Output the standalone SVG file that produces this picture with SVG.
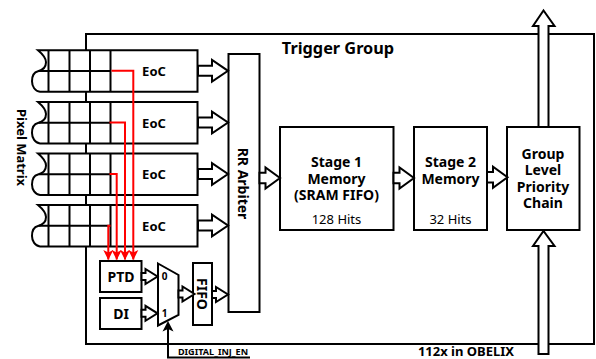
<svg xmlns="http://www.w3.org/2000/svg" width="596" height="359" viewBox="0 0 596 359">
<style>
.b{fill:#fff;stroke:#000;stroke-width:2}
.n{fill:none;stroke:#000;stroke-width:2}
.r{fill:none;stroke:#f00;stroke-width:2}
text{font-family:"Noto Sans","Open Sans",sans-serif;fill:#000;text-anchor:middle}
.t{font-weight:700;font-size:13px}
.m{font-weight:700;font-size:14px}
.h{font-size:13px}
.d{font-weight:700;font-size:10px}
</style>
<defs>
<marker id="ra" markerUnits="userSpaceOnUse" markerWidth="12" markerHeight="12" refX="9.500" refY="5.500" orient="auto"><path d="M0 0.500L10 5.500L0 10.500L2.500 5.500Z" fill="#f00"/></marker>
<path id="hollow" d="M0-5H14V-10.800L30 0L14 10.800V5H0Z" class="b"/>
<path id="mid" d="M0-5.300H6V-10.500L20.500 0L6 10.500V5.300H0Z" class="b"/>
<path id="small" d="M0-3.500H4V-7.500L16 0L4 7.500V3.500H0Z" class="b"/>
<g id="row"><path class="b" d="M38 0H197.500V41.500H40C35 41 32 36 32 31C32 26 34 22 38 21C42 20 46 17 46 12C46 8 44 5 38 0Z"/>
<path class="n" d="M39 20.700H110.500M48.500 0V41.500M69.500 0V41.500M90 0V41.500M110.500 0V41.500"/></g>
</defs>
<rect id="outer" class="b" x="86" y="34" width="508" height="310"/>
<text x="338" y="54" style="font-size:16.300px;font-weight:700">Trigger Group</text>
<text x="466" y="356" style="font-size:13px;font-weight:700">112x in OBELIX</text>
<text transform="translate(16.500 147.500) rotate(90)" style="font-size:13px;font-weight:700">Pixel Matrix</text>
<g id="eoc1"><use href="#row" y="50.300"/><text class="t" x="154" y="76">EoC</text></g>
<g id="eoc2"><use href="#row" y="102"/><text class="t" x="154" y="127.500">EoC</text></g>
<g id="eoc3"><use href="#row" y="153.500"/><text class="t" x="154" y="179">EoC</text></g>
<g id="eoc4"><use href="#row" y="205"/><text class="t" x="154" y="231">EoC</text></g>
<g id="arbiter"><rect class="b" x="228.500" y="54" width="31" height="258"/><text class="m" transform="translate(238 183.500) rotate(90)">RR Arbiter</text></g>
<g id="stage1"><rect class="b" x="280" y="127" width="113.500" height="103"/><text class="m" x="336.500" y="167">Stage 1</text><text class="m" x="336.500" y="184">Memory</text><text class="m" x="336.500" y="200">(SRAM FIFO)</text><text class="h" x="336.500" y="224">128 Hits</text></g>
<g id="stage2"><rect class="b" x="414" y="127" width="73" height="103"/><text class="m" x="450.500" y="167">Stage 2</text><text class="m" x="450.500" y="184">Memory</text><text class="h" x="450.500" y="224">32 Hits</text></g>
<g id="chain"><rect class="b" x="507" y="127" width="72.500" height="103"/><text class="m" x="543" y="159">Group</text><text class="m" x="543" y="175">Level</text><text class="m" x="543" y="191.500">Priority</text><text class="m" x="543" y="207.500">Chain</text></g>
<g id="ptd"><rect class="b" x="100" y="261" width="41.500" height="31"/><text class="m" x="121" y="281.500">PTD</text></g>
<g id="di"><rect class="b" x="100" y="298" width="41.500" height="31"/><text class="m" x="121" y="318.500">DI</text></g>
<g id="mux"><path class="b" d="M158 263.500L178.500 275V315L158 325.500Z"/><text class="d" x="164.500" y="279.500">0</text><text class="d" x="164.500" y="317">1</text></g>
<g id="fifo"><rect class="b" x="193" y="263" width="19" height="62"/><text class="m" transform="translate(196.500 294) rotate(90)">FIFO</text></g>
<text x="213" y="355" style="font-size:9.100px;font-weight:700">DIGITAL_INJ_EN</text>
<g id="connectors">
<use href="#hollow" transform="translate(198 70.800)"/>
<use href="#hollow" transform="translate(198 122.500)"/>
<use href="#hollow" transform="translate(198 174)"/>
<use href="#hollow" transform="translate(198 225.500)"/>
<use href="#mid" transform="translate(259.500 178)"/>
<use href="#mid" transform="translate(393.500 178)"/>
<use href="#mid" transform="translate(487 177.300)"/>
<use href="#small" transform="translate(141.500 276.500)"/>
<use href="#small" transform="translate(141.500 313.300)"/>
<use href="#small" transform="translate(178.500 294)"/>
<use href="#small" transform="translate(212 294.500)"/>
<path class="b" d="M538.500 127V26H533L543.500 10.500L554.500 26H548.500V127Z"/>
<path class="b" d="M538.500 354V246H533L543.500 231L554.500 246H548.500V354Z"/>
<path class="r" marker-end="url(#ra)" d="M111.500 70.800H133.300V259.500"/>
<path class="r" marker-end="url(#ra)" d="M109.500 122.500H125V259.500"/>
<path class="r" marker-end="url(#ra)" d="M109.500 174H116.700V259.500"/>
<path class="r" marker-end="url(#ra)" d="M110.500 225.700H108.300V259.500"/>
<path class="n" d="M168 325V357.500H250"/>
<path d="M168 321L173.500 331.500L168 329L162.500 331.500Z" fill="#000"/>
</g>
</svg>
